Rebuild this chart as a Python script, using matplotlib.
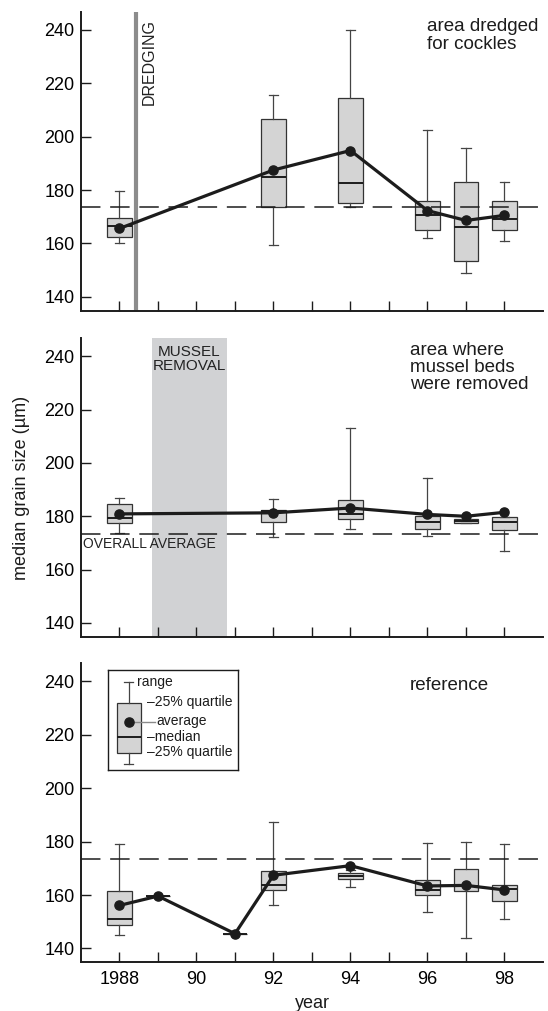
import matplotlib
matplotlib.use("Agg")
import matplotlib.pyplot as plt
from matplotlib import font_manager

# overall average grain size (dashed reference line)
overall_avg = 173.5

# area dredged for cockles
cockle_years = [1988, 1992, 1994, 1996, 1997, 1998]
cockle_lo = [160.3, 159.5, 173.8, 162.0, 149.0, 161.0]
cockle_q1 = [162.3, 173.5, 175.0, 165.0, 153.5, 165.0]
cockle_med = [166.5, 185.0, 182.8, 170.8, 166.0, 169.3]
cockle_q3 = [169.4, 206.5, 214.5, 176.0, 183.0, 176.0]
cockle_hi = [179.8, 215.5, 240.0, 202.6, 195.9, 183.0]
cockle_mean = [165.6, 187.5, 194.8, 172.3, 168.6, 170.5]

# area where mussel beds were removed
mussel_years = [1988, 1992, 1994, 1996, 1997, 1998]
mussel_lo = [173.8, 172.1, 175.4, 172.5, 177.4, 167.0]
mussel_q1 = [177.5, 177.9, 178.8, 175.3, 177.4, 174.8]
mussel_med = [179.4, 181.9, 181.0, 177.9, 178.2, 177.8]
mussel_q3 = [184.6, 182.2, 186.2, 180.2, 179.0, 179.6]
mussel_hi = [186.8, 186.3, 213.0, 194.5, 179.0, 179.6]
mussel_mean = [180.9, 181.3, 183.1, 180.7, 180.0, 181.5]

# reference area
ref_years = [1988, 1989, 1991, 1992, 1994, 1996, 1997, 1998]
ref_lo = [145.1, 159.6, 145.5, 156.1, 163.1, 153.8, 144.0, 151.1]
ref_q1 = [148.6, 159.6, 145.5, 161.9, 165.9, 160.1, 161.5, 157.6]
ref_med = [150.9, 159.6, 145.5, 163.9, 167.1, 161.9, 163.4, 162.4]
ref_q3 = [161.4, 159.6, 145.5, 168.9, 168.1, 165.6, 169.8, 163.9]
ref_hi = [179.1, 159.6, 145.5, 187.5, 169.5, 179.6, 179.8, 179.1]
ref_mean = [156.1, 159.6, 145.5, 167.4, 171.0, 163.4, 163.6, 161.9]

dredging_year = 1988.43
mussel_removal = (1988.85, 1990.78)

xticks = list(range(1988, 1999))
xticklabels = ["1988", "", "90", "", "92", "", "94", "", "96", "", "98"]
yticks = [140, 160, 180, 200, 220, 240]

# legend schematic (own coordinate box, 0..130 x 0..100, y downwards)
leg_stats = dict(whislo=94.3, q1=83.3, med=66.7, q3=32.7, whishi=11.7)
leg_dot = 52.3

installed = {f.name for f in font_manager.fontManager.ttflist}
plt.rcParams["font.family"] = ["Liberation Sans", "DejaVu Sans"]
narrow = "Liberation Sans Narrow" if "Liberation Sans Narrow" in installed else "Liberation Sans"
plt.rcParams["lines.scale_dashes"] = False

DARK = "#1c1c1c"
BOXFACE = "#d4d4d4"


def stats_list(lo, q1, med, q3, hi):
    return [dict(whislo=a, q1=b, med=c, q3=d, whishi=e) for a, b, c, d, e in zip(lo, q1, med, q3, hi)]


def panel(ax, years, lo, q1, med, q3, hi, mean, show_labels=False):
    ax.bxp(stats_list(lo, q1, med, q3, hi), positions=years, widths=0.64, capwidths=0.24,
           patch_artist=True, manage_ticks=False, showfliers=False,
           boxprops=dict(facecolor=BOXFACE, edgecolor="#333333", linewidth=0.9),
           medianprops=dict(color=DARK, linewidth=1.4),
           whiskerprops=dict(color="#444444", linewidth=0.9),
           capprops=dict(color="#444444", linewidth=0.9), zorder=2)
    ax.axhline(overall_avg, color=DARK, lw=1.1, linestyle=(0, (14, 7)), zorder=3)
    ax.plot(years, mean, "-o", color=DARK, lw=2.3, ms=6.6, zorder=4)
    ax.set_xlim(1987, 1999)
    ax.set_ylim(134.8, 246.8)
    ax.set_xticks(xticks)
    ax.set_yticks(yticks)
    if show_labels:
        ax.set_xticklabels(xticklabels)
    else:
        ax.set_xticklabels([])
    ax.tick_params(direction="in", length=7.5, width=1.0, color=DARK, labelsize=13, pad=4.5)
    ax.tick_params(axis="x", pad=6)
    for s in ["top", "right"]:
        ax.spines[s].set_visible(False)
    for s in ["left", "bottom"]:
        ax.spines[s].set_linewidth(1.4)
        ax.spines[s].set_color(DARK)


fig = plt.figure(figsize=(5.48, 10.11), dpi=100)
left, width = 0.1478, 0.843
ax1 = fig.add_axes([left, 0.6927, width, 0.2957])
ax2 = fig.add_axes([left, 0.3702, width, 0.2952])
ax3 = fig.add_axes([left, 0.0482, width, 0.2957])

panel(ax1, cockle_years, cockle_lo, cockle_q1, cockle_med, cockle_q3, cockle_hi, cockle_mean)
panel(ax2, mussel_years, mussel_lo, mussel_q1, mussel_med, mussel_q3, mussel_hi, mussel_mean)
panel(ax3, ref_years, ref_lo, ref_q1, ref_med, ref_q3, ref_hi, ref_mean, show_labels=True)

# panel 1 annotations
ax1.axvline(dredging_year, color="#8c8c8c", lw=3.0, zorder=1)
ax1.text(1988.77, 244, "DREDGING", rotation=90, ha="center", va="top",
         fontsize=11.5, family=narrow, color="#222222")
ax1.text(1995.99, 244.5, "area dredged\nfor cockles", ha="left", va="top", fontsize=13.5,
         linespacing=1.05, color=DARK)

# panel 2 annotations
ax2.axvspan(*mussel_removal, color="#d1d2d4", lw=0, zorder=0)
ax2.text(sum(mussel_removal) / 2, 244.3, "MUSSEL\nREMOVAL", ha="center", va="top",
         fontsize=11, family=narrow, linespacing=1.0, color="#222222")
ax2.text(1987.05, 169.6, "OVERALL AVERAGE", ha="left", va="center",
         fontsize=10, family=narrow, color="#222222")
ax2.text(1995.54, 245.5, "area where\nmussel beds\nwere removed", ha="left", va="top",
         fontsize=13.5, linespacing=1.0, color=DARK)

# panel 3 annotations
ax3.text(1995.54, 241.5, "reference", ha="left", va="top", fontsize=13.5, color=DARK)

fig.text(22 / 548, 0.5178, "median grain size (\u00b5m)", rotation=90, ha="center", va="center",
         fontsize=13, color=DARK)
fig.text(0.5694, 0.0079, "year", ha="center", va="center", fontsize=13, color=DARK)

# legend schematic
lg = fig.add_axes([0.1977, 0.2384, 0.2372, 0.0989])
lg.set_xlim(0, 130)
lg.set_ylim(100, 0)
lg.set_xticks([])
lg.set_yticks([])
for s in lg.spines.values():
    s.set_linewidth(1.0)
    s.set_color(DARK)
lg.bxp([leg_stats], positions=[20.3], widths=24, capwidths=8.3, patch_artist=True,
       manage_ticks=False, showfliers=False,
       boxprops=dict(facecolor=BOXFACE, edgecolor="#333333", linewidth=0.9),
       medianprops=dict(color=DARK, linewidth=1.4),
       whiskerprops=dict(color="#444444", linewidth=0.9),
       capprops=dict(color="#444444", linewidth=0.9))
lg.plot([20.3, 46.5], [leg_dot, leg_dot], color="#8a8a8a", lw=1.0, zorder=3)
lg.plot([20.3], [leg_dot], "o", color=DARK, ms=6.6, zorder=4)
lg_fs = 10
lg.text(28.3, 11.7, "range", ha="left", va="center", fontsize=lg_fs, color=DARK)
lg.text(39, 32.3, "\u201325% quartile", ha="left", va="center", fontsize=lg_fs, color=DARK)
lg.text(47.7, 50.7, "average", ha="left", va="center", fontsize=lg_fs, color=DARK)
lg.text(39, 66.7, "\u2013median", ha="left", va="center", fontsize=lg_fs, color=DARK)
lg.text(39, 81.7, "\u201325% quartile", ha="left", va="center", fontsize=lg_fs, color=DARK)

fig.savefig("out.png", dpi=100)
